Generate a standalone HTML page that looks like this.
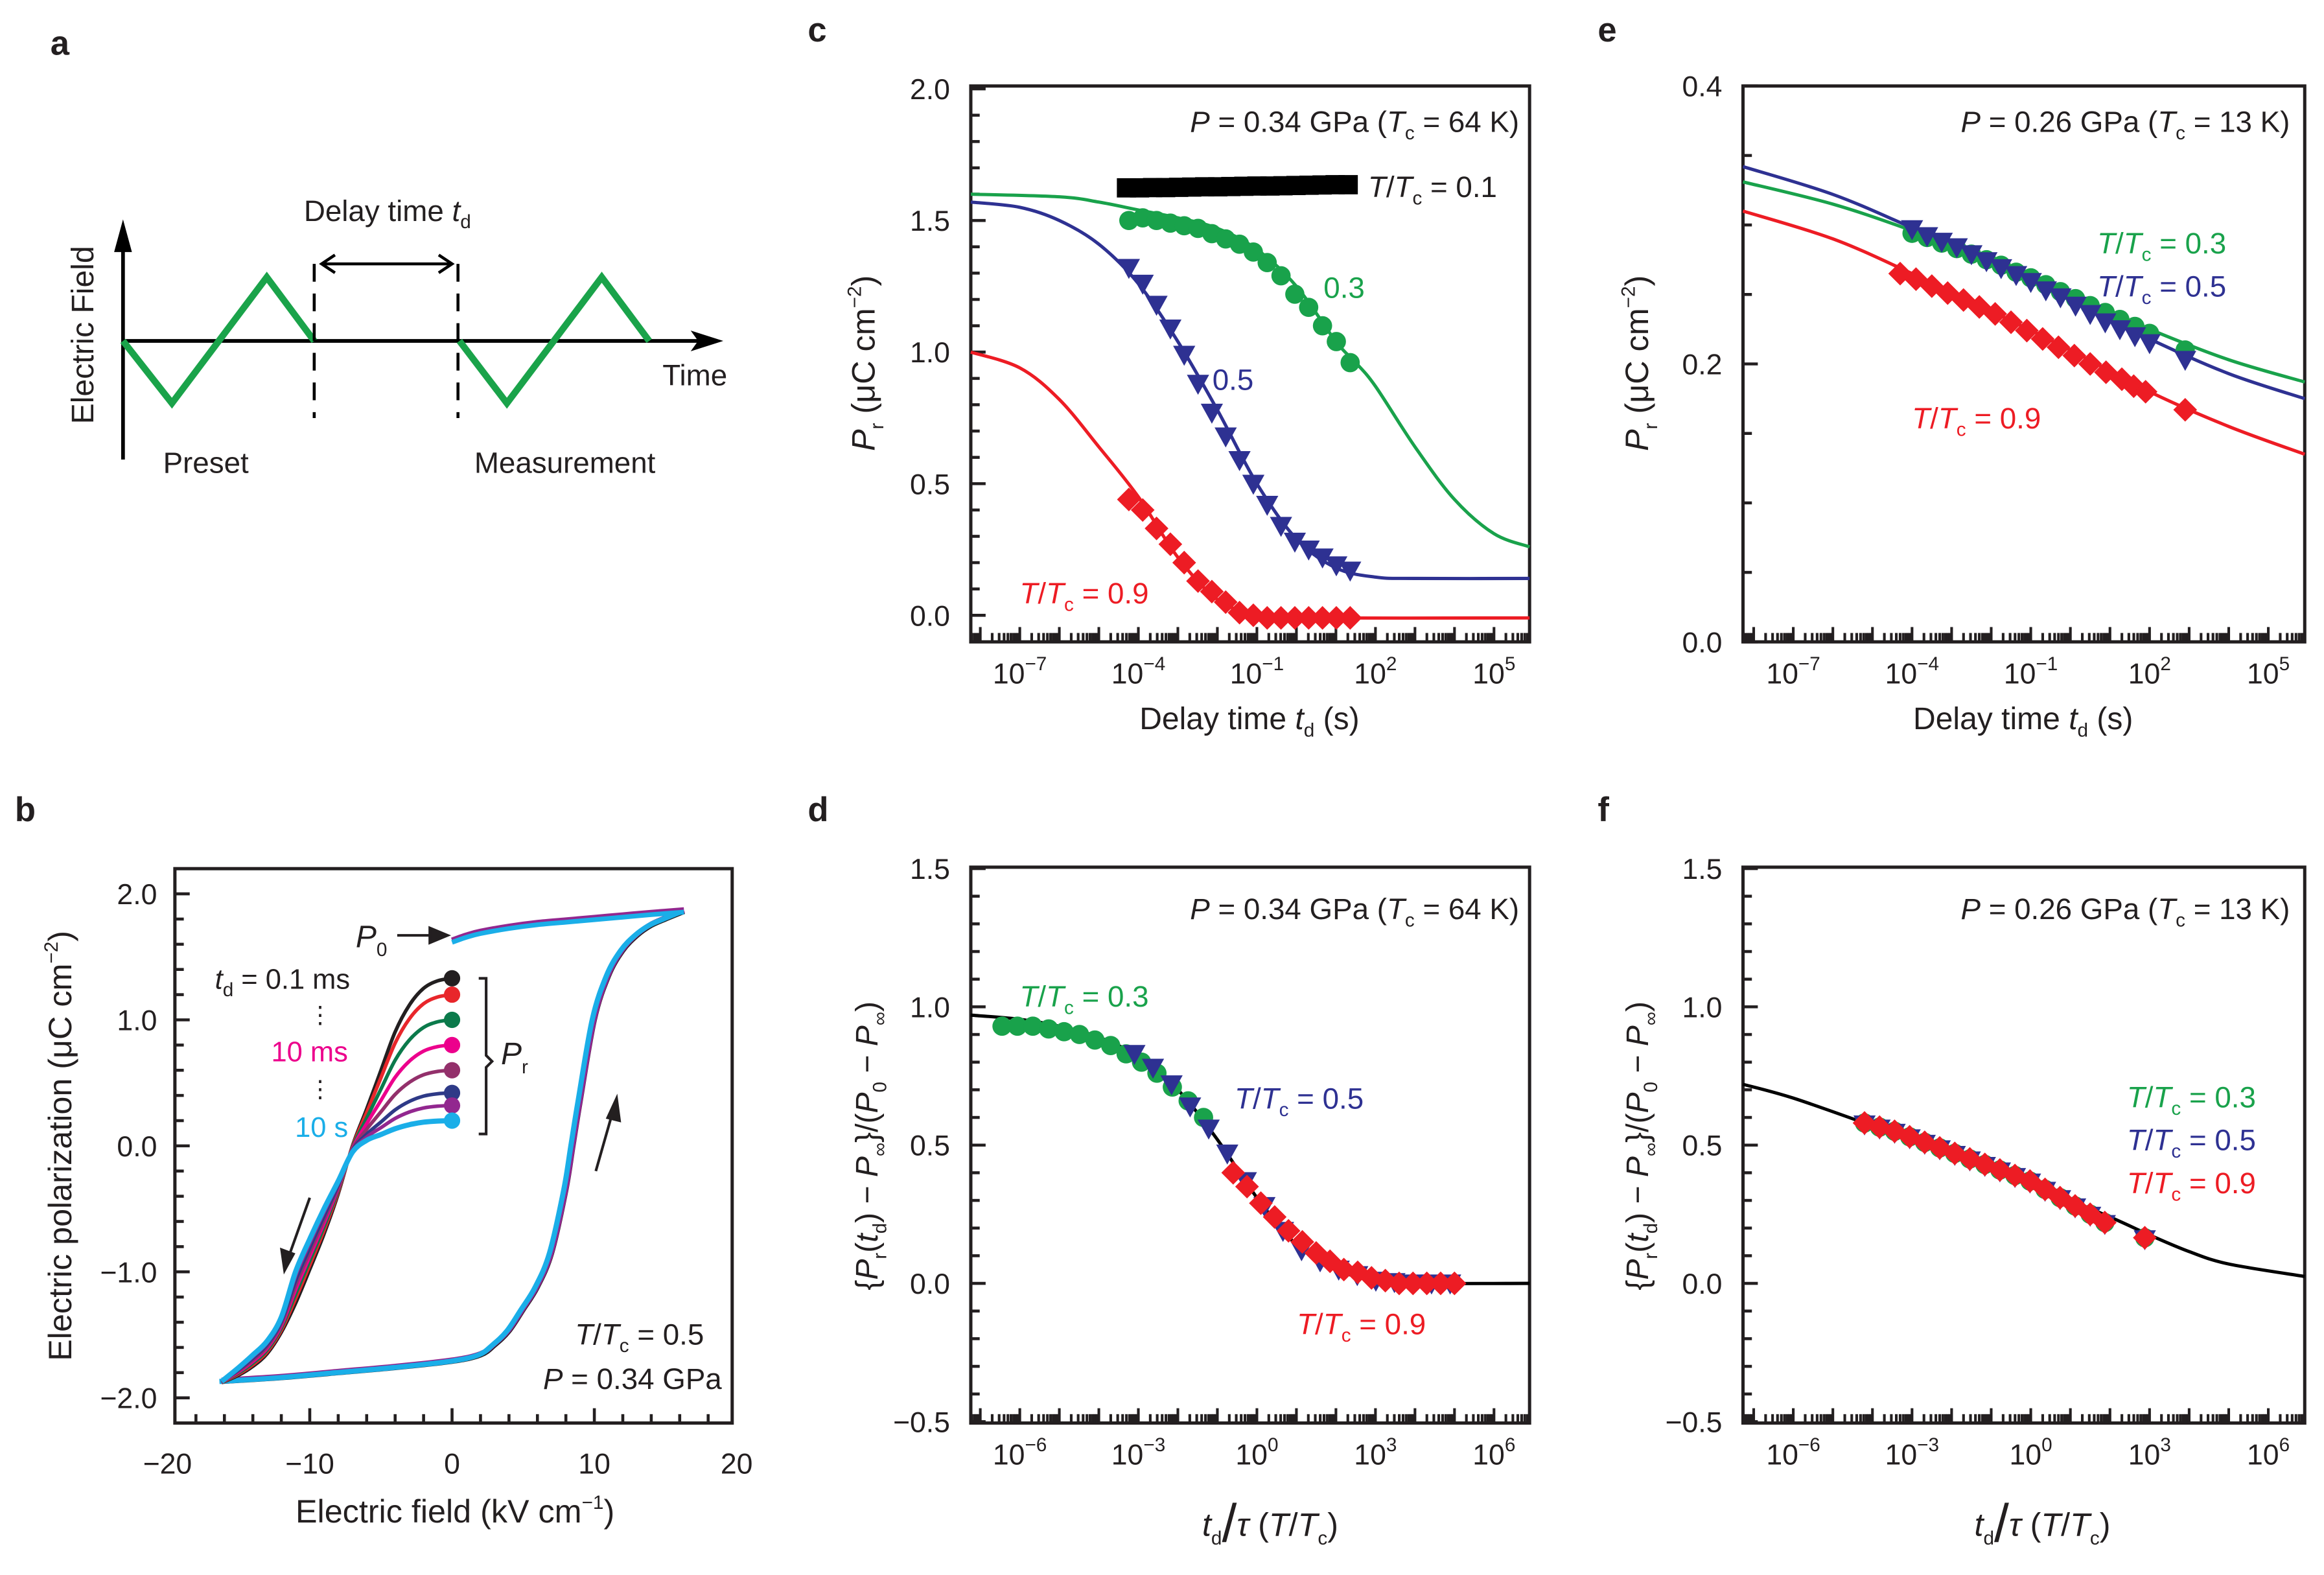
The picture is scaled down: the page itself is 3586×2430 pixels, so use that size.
<!DOCTYPE html>
<html><head><meta charset="utf-8">
<style>
html,body{margin:0;padding:0;background:#fff;}
svg{display:block;font-family:"Liberation Sans",Arial,sans-serif;}
</style></head>
<body>
<svg id="fig" xmlns="http://www.w3.org/2000/svg" width="3586" height="2430" viewBox="0 0 1568 1062.5">
<rect x="0" y="0" width="1568" height="1063" fill="#fff"/>
<g font-weight="bold" font-size="23" fill="#231f20">
<text x="34" y="37">a</text>
<text x="10" y="554">b</text>
<text x="545" y="28">c</text>
<text x="545" y="554">d</text>
<text x="1078" y="28">e</text>
<text x="1078" y="554">f</text>
</g>
<g fill="#231f20">
<line x1="83" y1="310" x2="83" y2="160" stroke="#000" stroke-width="2.5"/>
<polygon points="83,148 77,170 89,170" fill="#000"/>
<line x1="83" y1="230" x2="478" y2="230" stroke="#000" stroke-width="2.5"/>
<polygon points="488,230 466,223 471,230 466,237" fill="#000"/>
<polyline points="83,230 116,272 180,187 212,230" fill="none" stroke="#1aa34a" stroke-width="4.5"/>
<polyline points="310,230 342,272 406,187 438,230" fill="none" stroke="#1aa34a" stroke-width="4.5"/>
<line x1="212" y1="178" x2="212" y2="282" stroke="#000" stroke-width="2" stroke-dasharray="12,8"/>
<line x1="309" y1="178" x2="309" y2="282" stroke="#000" stroke-width="2" stroke-dasharray="12,8"/>
<line x1="218" y1="178" x2="304" y2="178" stroke="#000" stroke-width="2"/>
<polyline points="226,172 217,178 226,184" fill="none" stroke="#000" stroke-width="2"/>
<polyline points="296,172 305,178 296,184" fill="none" stroke="#000" stroke-width="2"/>
<text x="205" y="149" font-size="20">Delay time <tspan font-style="italic">t</tspan><tspan font-size="13" dy="5">d</tspan></text>
<text x="447" y="260" font-size="20">Time</text>
<text x="110" y="319" font-size="20">Preset</text>
<text x="320" y="319" font-size="20">Measurement</text>
<text transform="translate(63,226) rotate(-90)" text-anchor="middle" font-size="21">Electric Field</text>
</g>
<g id="plots"></g>
</svg>
<script>
// ===== Panel c data =====
const cX = [-4.24,-3.89,-3.54,-3.19,-2.84,-2.49,-2.14,-1.79,-1.44,-1.09,-0.74,-0.39,-0.04,0.31,0.66,1.01,1.36];
const cBlackX = [-4.3,-3.97,-3.64,-3.31,-2.98,-2.65,-2.32,-1.99,-1.66,-1.33,-1.0,-0.67,-0.34,-0.01,0.32,0.65,0.98,1.31];
const cBlack = [1.624,1.624,1.625,1.625,1.626,1.627,1.628,1.628,1.629,1.630,1.631,1.631,1.632,1.633,1.634,1.635,1.636,1.636];
const cGreen = [1.50,1.51,1.50,1.49,1.48,1.47,1.45,1.43,1.41,1.38,1.34,1.29,1.22,1.17,1.10,1.04,0.96];
const cBlue = [1.32,1.26,1.18,1.09,0.99,0.88,0.77,0.68,0.59,0.50,0.42,0.34,0.28,0.25,0.22,0.19,0.17];
const cRed = [0.44,0.40,0.33,0.27,0.20,0.13,0.09,0.05,0.01,0.0,-0.01,-0.01,-0.01,-0.01,-0.01,-0.01,-0.01];
const cFitGreenX = [-8.24,-6,-5,-4,-3,-2,-1,0,1,1.5,2,3,4,5,5.9];
const cFitGreenY = [1.60,1.59,1.57,1.54,1.51,1.47,1.39,1.25,1.04,0.96,0.87,0.64,0.44,0.31,0.26];
const cFitBlueX = [-8.24,-7,-6,-5,-4,-3,-2,-1,0,1,2,3,5.9];
const cFitBlueY = [1.57,1.55,1.50,1.41,1.26,1.04,0.78,0.50,0.29,0.18,0.145,0.14,0.14];
const cFitRedX = [-8.24,-7,-6,-5,-4,-3,-2,-1,0,5.9];
const cFitRedY = [1.0,0.94,0.82,0.64,0.45,0.22,0.06,0.0,-0.01,-0.01];
// ===== Panel e data =====
const eGX = [-4,-3.62,-3.25,-2.87,-2.5,-2.12,-1.75,-1.37,-1,-0.62,-0.25,0.13,0.5,0.88,1.25,1.63,2.0,2.9];
const eGreen = [0.294,0.291,0.287,0.283,0.279,0.275,0.271,0.266,0.262,0.257,0.252,0.247,0.242,0.237,0.232,0.227,0.222,0.21];
const eBlue = [0.297,0.292,0.288,0.284,0.279,0.274,0.269,0.264,0.259,0.253,0.248,0.242,0.236,0.230,0.225,0.220,0.215,0.203];
const eRX = [-4.3,-3.9,-3.5,-3.1,-2.7,-2.3,-1.9,-1.5,-1.1,-0.7,-0.3,0.1,0.5,0.9,1.3,1.6,1.9,2.9];
const eRed = [0.265,0.261,0.256,0.251,0.246,0.241,0.236,0.230,0.224,0.218,0.212,0.206,0.200,0.194,0.189,0.184,0.180,0.167];
const eFitX = [-8.27,-6,-4,-2,0,2,4,5.92];
const eFitGreen = [0.331,0.315,0.296,0.275,0.25,0.225,0.203,0.187];
const eFitBlue = [0.342,0.322,0.298,0.273,0.246,0.218,0.193,0.175];
const eFitRed = [0.31,0.29,0.265,0.238,0.21,0.18,0.155,0.135];
// ===== Panel d data =====
const dGX = [-6.45,-6.06,-5.67,-5.27,-4.88,-4.49,-4.1,-3.7,-3.31,-2.92,-2.53,-2.14,-1.74,-1.35];
const dGreen = [0.93,0.93,0.93,0.92,0.91,0.90,0.88,0.86,0.83,0.80,0.76,0.71,0.66,0.60];
const dBX = [-3.1,-2.63,-2.16,-1.69,-1.22,-0.75,-0.28,0.19,0.66,1.13,1.6,2.07,2.54,3.01,3.48,3.95,4.42,4.89];
const dBlue = [0.83,0.78,0.72,0.64,0.56,0.47,0.37,0.28,0.19,0.12,0.08,0.05,0.03,0.01,0.005,0,0,0];
const dRX = [-0.6,-0.25,0.1,0.45,0.8,1.15,1.5,1.85,2.2,2.55,2.9,3.25,3.6,3.95,4.3,4.65,5.0];
const dRed = [0.40,0.35,0.29,0.24,0.19,0.15,0.11,0.08,0.05,0.04,0.02,0.01,0,0,0,0,0];
const dFitX = [-7.24,-6,-5,-4,-3,-2,-1,0,1,2,3,4,6.9];
const dFitY = [0.97,0.955,0.93,0.89,0.82,0.70,0.52,0.31,0.14,0.05,0.01,0.0,0.0];
// ===== Panel f data =====
const fX = [-4.2,-3.82,-3.44,-3.06,-2.68,-2.3,-1.92,-1.54,-1.16,-0.78,-0.4,-0.02,0.36,0.74,1.12,1.5,1.87,2.88];
const fVals = [0.58,0.565,0.55,0.53,0.51,0.49,0.47,0.45,0.43,0.41,0.39,0.37,0.34,0.31,0.28,0.25,0.22,0.165];
const fFitX = [-7.27,-6,-4,-2,0,2,3,4,5,6.92];
const fFitY = [0.72,0.67,0.57,0.47,0.36,0.24,0.175,0.115,0.07,0.025];
// ===== Panel b data =====
const bPr = [1.33,1.20,1.00,0.80,0.60,0.42,0.32,0.20];
const bColors = ['#231f20','#e8262b','#0b7a4b','#ec008c','#93306b','#2e3a87','#92278f','#1aaee8'];
const bUpperE = [0,-1,-2,-3,-4,-5,-6];
const bUpperS = [0,0.015,0.06,0.16,0.32,0.55,0.78];
const bLowE = [-7,-8,-9,-10,-11,-12,-13,-14,-15,-16.2];
const bLowBlack = [0.0,-0.38,-0.70,-0.98,-1.25,-1.48,-1.65,-1.75,-1.82,-1.88];
const bLowCyan = [-0.05,-0.28,-0.50,-0.74,-1.0,-1.36,-1.55,-1.66,-1.76,-1.87];
const bAscE = [-16.2,-12,-8,-4,0,2,3,4,5,6,7,8,8.5,9,10,11,12,13,14,15,16.3];
const bAscP = [-1.87,-1.84,-1.80,-1.76,-1.71,-1.66,-1.58,-1.47,-1.30,-1.12,-0.85,-0.35,0.0,0.35,1.0,1.35,1.55,1.67,1.75,1.80,1.86];
const bTopE = [0,1,2,4,6,8,10,12,14,16.3];
const bTopP = [1.63,1.67,1.70,1.74,1.77,1.79,1.81,1.83,1.85,1.87];

const NS = 'http://www.w3.org/2000/svg';
const root = document.getElementById('plots');
function mk(parent, tag, attrs) {
  const e = document.createElementNS(NS, tag);
  for (const k in attrs) e.setAttribute(k, attrs[k]);
  parent.appendChild(e);
  return e;
}
function smoothPath(pts) {
  let d = 'M' + pts[0][0].toFixed(2) + ',' + pts[0][1].toFixed(2);
  for (let i = 0; i < pts.length - 1; i++) {
    const p0 = pts[i - 1] || pts[i], p1 = pts[i], p2 = pts[i + 1], p3 = pts[i + 2] || p2;
    const c1x = p1[0] + (p2[0] - p0[0]) / 6, c1y = p1[1] + (p2[1] - p0[1]) / 6;
    const c2x = p2[0] - (p3[0] - p1[0]) / 6, c2y = p2[1] - (p3[1] - p1[1]) / 6;
    d += 'C' + c1x.toFixed(2) + ',' + c1y.toFixed(2) + ' ' + c2x.toFixed(2) + ',' + c2y.toFixed(2) + ' ' + p2[0].toFixed(2) + ',' + p2[1].toFixed(2);
  }
  return d;
}
function axes(P) {
  P.sx = v => P.x0 + (v - P.lmin) / (P.lmax - P.lmin) * (P.x1 - P.x0);
  P.sy = v => P.y1 - (v - P.vmin) / (P.vmax - P.vmin) * (P.y1 - P.y0);
  const g = mk(root, 'g', {});
  
  
  const fr = mk(g, 'rect', {x: P.x0, y: P.y0, width: P.x1 - P.x0, height: P.y1 - P.y0, fill: 'none', stroke: '#231f20', 'stroke-width': 2.2});
  
  
  const nMinor = Math.round((P.vmaxT - P.vminT) / P.yMinor);
  for (let i = 0; i <= nMinor; i++) {
    const v = P.vminT + i * P.yMinor;
    const major = Math.abs(v / P.yMajor - Math.round(v / P.yMajor)) < 1e-6;
    const y = P.sy(v);
    mk(g, 'line', {x1: P.x0, x2: P.x0 + (major ? 10 : 6), y1: y, y2: y, stroke: '#231f20', 'stroke-width': 2});
    if (major) {
      const t = mk(g, 'text', {x: P.x0 - 14, y: y + 7, 'text-anchor': 'end', 'font-size': 19.5, fill: '#231f20'});
      
      
      t.textContent = (v < -1e-9 ? '\u2212' : '') + Math.abs(v).toFixed(P.yDec);
    }
  }
  if (P.log) {
    for (let d = Math.floor(P.lmin); d <= Math.ceil(P.lmax); d++) {
      for (let k = 1; k <= 9; k++) {
        const lv = d + Math.log10(k);
        if (lv < P.lmin || lv > P.lmax) continue;
        const x = P.sx(lv);
        mk(g, 'line', {x1: x, x2: x, y1: P.y1, y2: P.y1 - (k === 1 ? 10 : 6), stroke: '#231f20', 'stroke-width': 1.8});
      }
    }
    P.xLabels.forEach(d => {
      const x = P.sx(d);
      const t = mk(g, 'text', {x: x, y: P.y1 + 28, 'text-anchor': 'middle', 'font-size': 19.5, fill: '#231f20'});
      
      
      const a = mk(t, 'tspan', {});
      a.textContent = '10';
      const b = mk(t, 'tspan', {'font-size': 13, dy: -9});
      b.textContent = (d < 0 ? '\u2212' : '') + Math.abs(d);
    });
  }
  return g;
}
function curve(P, xs, ys, color, name, w) {
  const pts = xs.map((x, i) => [P.sx(x), P.sy(ys[i])]);
  const p = mk(root, 'path', {d: smoothPath(pts), fill: 'none', stroke: color, 'stroke-width': w || 2.2});
  
  
}
function markers(P, xs, ys, shape, color, name) {
  const g = mk(root, 'g', {fill: color});
  
  
  for (let i = 0; i < ys.length; i++) {
    const x = P.sx(xs[i]), y = P.sy(ys[i]);
    let m;
    if (shape === 'circle') m = mk(g, 'circle', {cx: x, cy: y, r: 6.5});
    else if (shape === 'tri') m = mk(g, 'polygon', {points: (x - 7.5) + ',' + (y - 6) + ' ' + (x + 7.5) + ',' + (y - 6) + ' ' + x + ',' + (y + 7.5)});
    else if (shape === 'diamond') m = mk(g, 'polygon', {points: x + ',' + (y - 8) + ' ' + (x + 8) + ',' + y + ' ' + x + ',' + (y + 8) + ' ' + (x - 8) + ',' + y});
    else m = mk(g, 'rect', {x: x - 6.5, y: y - 6.5, width: 13, height: 13});
    
    
  }
}
function text(html, x, y, attrs, name) {
  const t = mk(root, 'text', Object.assign({x: x, y: y, 'font-size': 20, fill: '#231f20'}, attrs || {}));
  
  
  t.innerHTML = html;
  return t;
}
const TT = (c, v) => '<tspan font-style="italic">T</tspan>/<tspan font-style="italic">T</tspan><tspan font-size="13" dy="5">c</tspan><tspan dy="-5"> = ' + v + '</tspan>';
const GREEN = '#19a24b', BLUE = '#2e3192', RED = '#ed1c24';

// ---- Panel c ----
const Pc = {name: 'panel-c', x0: 655, x1: 1032, y0: 58, y1: 433, lmin: -8.24, lmax: 5.9, vmin: -0.101, vmax: 2.011, vminT: 0, vmaxT: 2.0, yMajor: 0.5, yMinor: 0.1, yDec: 1, log: true, xLabels: [-7, -4, -1, 2, 5]};
axes(Pc);
curve(Pc, cFitGreenX, cFitGreenY, GREEN, 'fit-curve-green-c');
curve(Pc, cFitBlueX, cFitBlueY, BLUE, 'fit-curve-blue-c');
curve(Pc, cFitRedX, cFitRedY, RED, 'fit-curve-red-c');
markers(Pc, cBlackX, cBlack, 'square', '#000', 'series-t01-c');
markers(Pc, cX, cGreen, 'circle', GREEN, 'series-t03-c');
markers(Pc, cX, cBlue, 'tri', BLUE, 'series-t05-c');
markers(Pc, cX, cRed, 'diamond', RED, 'series-t09-c');
text('<tspan font-style="italic">P</tspan> = 0.34 GPa (<tspan font-style="italic">T</tspan><tspan font-size="13" dy="5">c</tspan><tspan dy="-5"> = 64 K)</tspan>', 1025, 89, {'text-anchor': 'end'}, 'pressure-annotation-c');
text(TT('', '0.1'), 923, 133, {}, 'label-t01-c');
text('0.3', 893, 201, {fill: GREEN}, 'label-t03-c');
text('0.5', 818, 263, {fill: BLUE}, 'label-t05-c');
text(TT('', '0.9'), 688, 407, {fill: RED}, 'label-t09-c');
text('<tspan font-style="italic">P</tspan><tspan font-size="13" dy="6">r</tspan><tspan dy="-6"> (μC cm</tspan><tspan font-size="13" dy="-9">−2</tspan><tspan dy="9">)</tspan>', 0, 0, {transform: 'translate(590,245) rotate(-90)', 'text-anchor': 'middle', 'font-size': 22}, 'y-axis-title-c');
text('Delay time <tspan font-style="italic">t</tspan><tspan font-size="13" dy="5">d</tspan><tspan dy="-5"> (s)</tspan>', 843, 492, {'text-anchor': 'middle', 'font-size': 21}, 'x-axis-title-c');

// ---- Panel e ----
const Pe = {name: 'panel-e', x0: 1176, x1: 1555, y0: 58, y1: 433, lmin: -8.27, lmax: 5.92, vmin: 0, vmax: 0.4, vminT: 0, vmaxT: 0.4, yMajor: 0.2, yMinor: 0.05, yDec: 1, log: true, xLabels: [-7, -4, -1, 2, 5]};
axes(Pe);
curve(Pe, eFitX, eFitGreen, GREEN, 'fit-curve-green-e');
curve(Pe, eFitX, eFitBlue, BLUE, 'fit-curve-blue-e');
curve(Pe, eFitX, eFitRed, RED, 'fit-curve-red-e');
markers(Pe, eGX, eGreen, 'circle', GREEN, 'series-t03-e');
markers(Pe, eGX, eBlue, 'tri', BLUE, 'series-t05-e');
markers(Pe, eRX, eRed, 'diamond', RED, 'series-t09-e');
text('<tspan font-style="italic">P</tspan> = 0.26 GPa (<tspan font-style="italic">T</tspan><tspan font-size="13" dy="5">c</tspan><tspan dy="-5"> = 13 K)</tspan>', 1545, 89, {'text-anchor': 'end'}, 'pressure-annotation-e');
text(TT('', '0.3'), 1415, 171, {fill: GREEN}, 'label-t03-e');
text(TT('', '0.5'), 1415, 200, {fill: BLUE}, 'label-t05-e');
text(TT('', '0.9'), 1290, 289, {fill: RED}, 'label-t09-e');
text('<tspan font-style="italic">P</tspan><tspan font-size="13" dy="6">r</tspan><tspan dy="-6"> (μC cm</tspan><tspan font-size="13" dy="-9">−2</tspan><tspan dy="9">)</tspan>', 0, 0, {transform: 'translate(1112,245) rotate(-90)', 'text-anchor': 'middle', 'font-size': 22}, 'y-axis-title-e');
text('Delay time <tspan font-style="italic">t</tspan><tspan font-size="13" dy="5">d</tspan><tspan dy="-5"> (s)</tspan>', 1365, 492, {'text-anchor': 'middle', 'font-size': 21}, 'x-axis-title-e');

// ---- Panel d ----
const Pd = {name: 'panel-d', x0: 655, x1: 1032, y0: 585, y1: 960, lmin: -7.24, lmax: 6.9, vmin: -0.505, vmax: 1.505, vminT: -0.5, vmaxT: 1.5, yMajor: 0.5, yMinor: 0.1, yDec: 1, log: true, xLabels: [-6, -3, 0, 3, 6]};
axes(Pd);
curve(Pd, dFitX, dFitY, '#000', 'scaling-curve-d');
markers(Pd, dGX, dGreen, 'circle', GREEN, 'series-t03-d');
markers(Pd, dBX, dBlue, 'tri', BLUE, 'series-t05-d');
markers(Pd, dRX, dRed, 'diamond', RED, 'series-t09-d');
text('<tspan font-style="italic">P</tspan> = 0.34 GPa (<tspan font-style="italic">T</tspan><tspan font-size="13" dy="5">c</tspan><tspan dy="-5"> = 64 K)</tspan>', 1025, 620, {'text-anchor': 'end'}, 'pressure-annotation-d');
text(TT('', '0.3'), 688, 679, {fill: GREEN}, 'label-t03-d');
text(TT('', '0.5'), 833, 748, {fill: BLUE}, 'label-t05-d');
text(TT('', '0.9'), 875, 900, {fill: RED}, 'label-t09-d');
const yTitleD = '{<tspan font-style="italic">P</tspan><tspan font-size="13" dy="6">r</tspan><tspan dy="-6">(</tspan><tspan font-style="italic">t</tspan><tspan font-size="13" dy="6">d</tspan><tspan dy="-6">) − </tspan><tspan font-style="italic">P</tspan><tspan font-size="13" dy="6">∞</tspan><tspan dy="-6">}/(</tspan><tspan font-style="italic">P</tspan><tspan font-size="13" dy="6">0</tspan><tspan dy="-6"> − </tspan><tspan font-style="italic">P</tspan><tspan font-size="13" dy="6">∞</tspan><tspan dy="-6">)</tspan>';
text(yTitleD, 0, 0, {transform: 'translate(592,773) rotate(-90)', 'text-anchor': 'middle', 'font-size': 21}, 'y-axis-title-d');
const xTitleD = '<tspan font-style="italic">t</tspan><tspan font-size="13" dy="6">d</tspan><tspan font-size="36" dy="-2">/</tspan><tspan font-style="italic" dy="-4">τ</tspan> (<tspan font-style="italic">T</tspan>/<tspan font-style="italic">T</tspan><tspan font-size="13" dy="6">c</tspan><tspan dy="-6">)</tspan>';
text(xTitleD, 857, 1036, {'text-anchor': 'middle', 'font-size': 22}, 'x-axis-title-d');

// ---- Panel f ----
const Pf = {name: 'panel-f', x0: 1176, x1: 1555, y0: 585, y1: 960, lmin: -7.27, lmax: 6.92, vmin: -0.505, vmax: 1.505, vminT: -0.5, vmaxT: 1.5, yMajor: 0.5, yMinor: 0.1, yDec: 1, log: true, xLabels: [-6, -3, 0, 3, 6]};
axes(Pf);
curve(Pf, fFitX, fFitY, '#000', 'scaling-curve-f');
markers(Pf, fX, fVals, 'circle', GREEN, 'series-t03-f');
markers(Pf, fX, fVals.map(v => v - 0.005), 'tri', BLUE, 'series-t05-f');
markers(Pf, fX, fVals, 'diamond', RED, 'series-t09-f');
text('<tspan font-style="italic">P</tspan> = 0.26 GPa (<tspan font-style="italic">T</tspan><tspan font-size="13" dy="5">c</tspan><tspan dy="-5"> = 13 K)</tspan>', 1545, 620, {'text-anchor': 'end'}, 'pressure-annotation-f');
text(TT('', '0.3'), 1435, 747, {fill: GREEN}, 'label-t03-f');
text(TT('', '0.5'), 1435, 776, {fill: BLUE}, 'label-t05-f');
text(TT('', '0.9'), 1435, 805, {fill: RED}, 'label-t09-f');
text(yTitleD, 0, 0, {transform: 'translate(1112,773) rotate(-90)', 'text-anchor': 'middle', 'font-size': 21}, 'y-axis-title-f');
text(xTitleD, 1378, 1036, {'text-anchor': 'middle', 'font-size': 22}, 'x-axis-title-f');

// ---- Panel b ----
const Pb = {name: 'panel-b', x0: 118, x1: 494, y0: 586, y1: 960};
Pb.sx = v => 305 + v * 9.6;
Pb.sy = v => 773 - v * 85;
(function () {
  const g = mk(root, 'g', {});
  
  
  mk(g, 'rect', {x: Pb.x0, y: Pb.y0, width: Pb.x1 - Pb.x0, height: Pb.y1 - Pb.y0, fill: 'none', stroke: '#231f20', 'stroke-width': 2.2});
  for (let i = -10; i <= 10; i++) {
    const v = i * 0.2;
    const y = Pb.sy(v);
    const major = i % 5 === 0;
    mk(g, 'line', {x1: Pb.x0, x2: Pb.x0 + (major ? 10 : 6), y1: y, y2: y, stroke: '#231f20', 'stroke-width': 2});
    if (major) {
      const t = mk(g, 'text', {x: Pb.x0 - 12, y: y + 7, 'text-anchor': 'end', 'font-size': 19.5, fill: '#231f20'});
      
      
      t.textContent = (v < -1e-6 ? '\u2212' : '') + Math.abs(v).toFixed(1);
    }
  }
  for (let v = -18; v <= 18; v += 2) {
    const x = Pb.sx(v);
    mk(g, 'line', {x1: x, x2: x, y1: Pb.y1, y2: Pb.y1 - (v % 10 === 0 ? 10 : 6), stroke: '#231f20', 'stroke-width': 2});
  }
  [-20, -10, 0, 10, 20].forEach(v => {
    const t = mk(g, 'text', {x: Pb.sx(v), y: Pb.y1 + 34, 'text-anchor': 'middle', 'font-size': 19.5, fill: '#231f20'});
    
    
    t.textContent = (v < 0 ? '\u2212' : '') + Math.abs(v);
  });
})();
function bLine(es, ps, color, w, name) {
  const pts = es.map((e, i) => [Pb.sx(e), Pb.sy(ps[i])]);
  const p = mk(root, 'path', {d: smoothPath(pts), fill: 'none', stroke: color, 'stroke-width': w, 'stroke-linejoin': 'round'});
  
  
}
bLine(bAscE, bAscP, '#231f20', 3.5, 'ascending-branch-black');
bLine(bAscE, bAscP.map(v => v + 0.01), '#92278f', 3.5, 'ascending-branch-purple');
bLine(bAscE.map(e => e - 0.15), bAscP, '#1aaee8', 3.5, 'ascending-branch-cyan');
bLine(bTopE, bTopP, '#92278f', 4, 'top-branch-purple');
bLine(bTopE, bTopP.map(v => v - 0.015), '#1aaee8', 3.2, 'top-branch-cyan');
bPr.forEach((pr, i) => {
  const f = i / (bPr.length - 1);
  const es = bUpperE.concat(bLowE);
  const ps = bUpperS.map(s => pr * (1 - s)).concat(bLowE.map((e, j) => bLowBlack[j] * (1 - f) + bLowCyan[j] * f));
  bLine(es, ps, bColors[i], i === bPr.length - 1 ? 3.5 : 2.4, 'descending-branch-' + i);
});
bPr.forEach((pr, i) => {
  const c = mk(root, 'circle', {cx: Pb.sx(0), cy: Pb.sy(pr), r: 5.5, fill: bColors[i]});
  
  
});
(function () {
  const g = mk(root, 'g', {stroke: '#231f20', 'stroke-width': 1.8, fill: 'none'});
  
  
  mk(g, 'line', {x1: 268, y1: 631, x2: 296, y2: 631});
  mk(g, 'polygon', {points: '302,631 290,626 290,636', fill: '#231f20'});
  mk(g, 'path', {d: 'M323,660 L328,660 L328,712 L332,716 L328,720 L328,765 L323,765'});
  mk(g, 'line', {x1: 209, y1: 808, x2: 194, y2: 850});
  mk(g, 'polygon', {points: '192,857 190,843 198,846', fill: '#231f20'});
  mk(g, 'line', {x1: 402, y1: 790, x2: 414, y2: 748});
  mk(g, 'polygon', {points: '416,741 410,754 418,756', fill: '#231f20'});
})();
text('<tspan font-style="italic">P</tspan><tspan font-size="13" dy="6">0</tspan>', 240, 639, {'font-size': 21}, 'p0-label');
text('<tspan font-style="italic">t</tspan><tspan font-size="13" dy="5">d</tspan><tspan dy="-5"> = 0.1 ms</tspan>', 145, 667, {'font-size': 19}, 'td-label-first');
text('⋮', 208, 690, {'font-size': 16}, 'ellipsis-1');
text('10 ms', 183, 716, {'font-size': 19, fill: '#ec008c'}, 'td-label-10ms');
text('⋮', 208, 740, {'font-size': 16}, 'ellipsis-2');
text('10 s', 199, 767, {'font-size': 19, fill: '#1aaee8'}, 'td-label-10s');
text('<tspan font-style="italic">P</tspan><tspan font-size="13" dy="6">r</tspan>', 338, 718, {'font-size': 21}, 'pr-label');
text(TT('', '0.5'), 475, 907, {'text-anchor': 'end', 'font-size': 20}, 'temperature-annotation-b');
text('<tspan font-style="italic">P</tspan> = 0.34 GPa', 487, 937, {'text-anchor': 'end', 'font-size': 20}, 'pressure-annotation-b');
text('Electric polarization (μC cm<tspan font-size="13" dy="-9">−2</tspan><tspan dy="9">)</tspan>', 0, 0, {transform: 'translate(48,773) rotate(-90)', 'text-anchor': 'middle', 'font-size': 22}, 'y-axis-title-b');
text('Electric field (kV cm<tspan font-size="13" dy="-9">−1</tspan><tspan dy="9">)</tspan>', 307, 1027, {'text-anchor': 'middle', 'font-size': 22}, 'x-axis-title-b');
</script>
</body></html>
